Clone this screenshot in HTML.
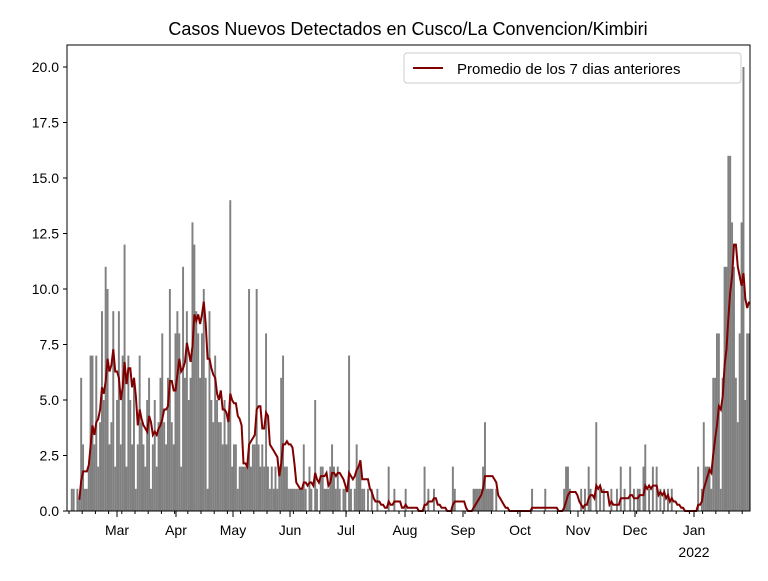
<!DOCTYPE html><html><head><meta charset="utf-8"><style>body{margin:0;background:#fff}svg{font-family:"Liberation Sans","DejaVu Sans",sans-serif}</style></head><body>
<svg id="s" width="768" height="576" xmlns="http://www.w3.org/2000/svg">
<rect width="768" height="576" fill="#fff"/>
<text x="408" y="35" font-size="18" text-anchor="middle">Casos Nuevos Detectados en Cusco/La Convencion/Kimbiri</text>
<g id="bars" fill="#808080"></g>
<polyline id="ln" fill="none" stroke="#800000" stroke-width="2"/>
<rect x="67" y="45" width="683" height="466" fill="none" stroke="#000" stroke-width="1"/>
<g id="ax" font-size="14"></g>
<rect x="404" y="53" width="337" height="30" fill="#fff" stroke="#ccc" rx="3"/>
<line x1="413" y1="68" x2="443" y2="68" stroke="#800000" stroke-width="2"/>
<text x="457" y="74" font-size="15">Promedio de los 7 dias anteriores</text>
</svg>
<script>
var d=[].concat(
[0,0,1,1,0,1,0.5,6,3,1,1,2,7,7,3,7,2,4,9,5,11,10,3,4,9,2,5,9,3,7],
[12,2,7,5,3,6,1,3,7,4,3,2,5,6,1,3,5,2,4,6,8,4,3,6,10,4,3,8,9,8,2,11,6,9,5,6],
[13,12,9,8,6,8,10,6,1,9,5,4,7,5,4,4,3,5,3,4,14],
[2,3,3,1,2,2,2,2,2,10,2,3,3,10,3,2,3,2,8,2,1,2,1,2,1,2,6,7,2,2,1,1],
[1,1,1,1,1,1,3,1,0,2,1,0,5,1,0,2,2,1,1,1,2,3,2,1,2,1,0,1,1,0,7,1,0,1,3,2,2,1,1,0,1,0,1],
[0,0,1,0,0,0,0,0,2,0,0,1,0,0,0,0,0],
[1,0,0,0,0,0,0,0,0,0,2,0,1,0,0,1,0,0,0,0,0,0,0,0,0,2,1,0,0,0,0],
[0,0,0,0,0,1,1,1,1,1,2,4,1,1,1,1,0,1,0,0,0,0,0,0,0,0,0,0,0,0],
[0,0,0,0,0,0,1,0,0,0,0,0,0,1,0,0,0,0,0,0,0,0]);
while(d.length<362)d.push(0);
var sp={263:1,264:2,265:2,266:1,272:1,274:1,276:2,277:1,280:4,282:1,284:1,288:1,291:1,293:2,295:1,298:2,300:1,302:1,303:1,305:2,306:3,308:1,310:2,312:2,314:1,316:1,318:1,320:1,
334:2,336:1,337:4,338:2,339:2,340:2,341:1,342:6,343:6,344:8,345:8,346:1,347:6,348:11,349:11,350:16,351:16,352:13,353:11,354:6,355:4,356:8,357:13,358:20,359:5,360:8,361:8};
for(var k in sp)d[+k]=sp[k];
var n=d.length,x0=67,w=683/n,b="",p=[];
for(var i=0;i<n;i++){var x=x0+i*w,h=d[i]*22.2;if(h>0)b+='<rect x="'+x.toFixed(1)+'" y="'+(511-h).toFixed(1)+'" width="'+(w+0.05).toFixed(2)+'" height="'+h.toFixed(1)+'"/>';
if(i>=6){var s=0;for(var k2=i-6;k2<=i;k2++)s+=d[k2];p.push((x+1).toFixed(1)+","+(511-s/7*22.2).toFixed(1));}}
document.getElementById("bars").innerHTML=b;document.getElementById("ln").setAttribute("points",p.join(" "));
var a="";for(var v=0;v<=20;v+=2.5){var y=511-v*22.2;a+='<line x1="63" x2="67" y1="'+y+'" y2="'+y+'" stroke="#000"/><text x="59" y="'+(y+5)+'" text-anchor="end">'+v.toFixed(1)+'</text>';}
var m=[["Mar",117],["Apr",176],["May",233],["Jun",290],["Jul",346],["Aug",405],["Sep",463],["Oct",520],["Nov",578],["Dec",635],["Jan",694]];
m.forEach(function(q){a+='<line x1="'+q[1]+'" x2="'+q[1]+'" y1="511" y2="517" stroke="#000"/><text x="'+q[1]+'" y="535" text-anchor="middle">'+q[0]+'</text>';});
for(var x=69;x<750;x+=13.2)a+='<line x1="'+x+'" x2="'+x+'" y1="511" y2="514" stroke="#000"/>';
a+='<text x="694" y="557" text-anchor="middle">2022</text>';
document.getElementById("ax").innerHTML=a;
</script></body></html>
